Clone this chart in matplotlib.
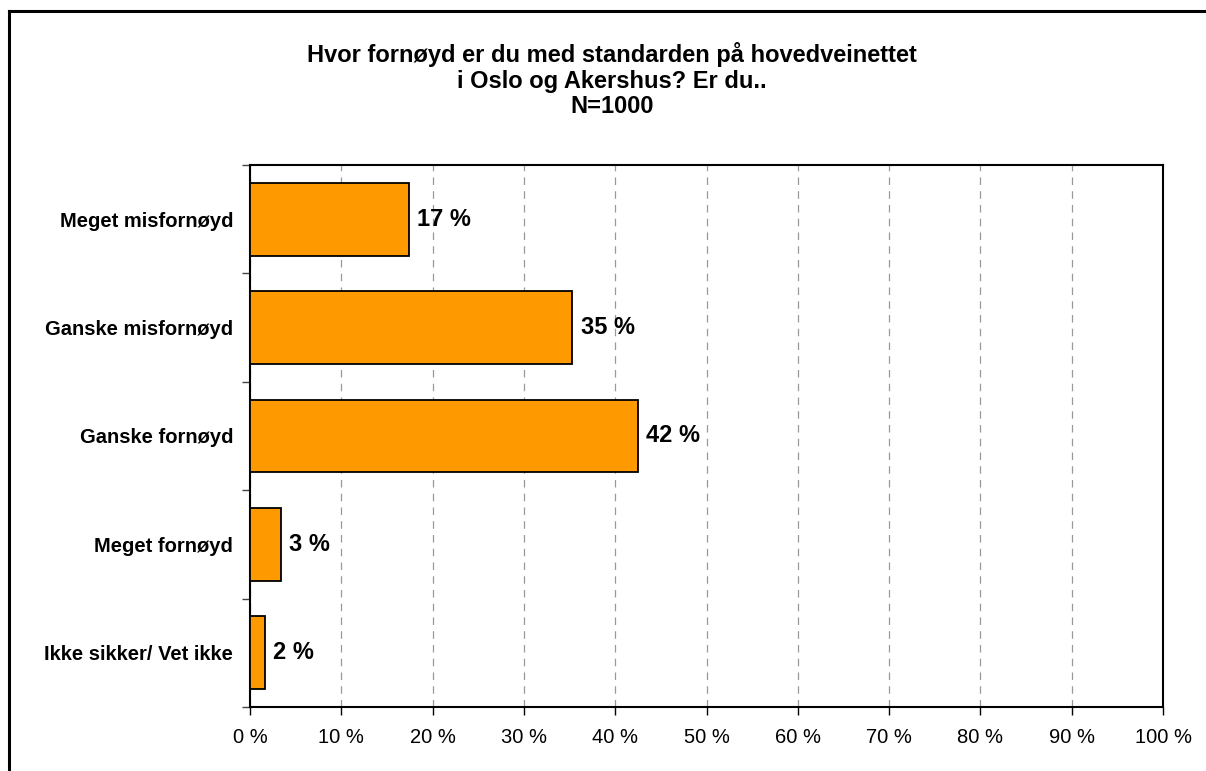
import matplotlib.pyplot as plt
from matplotlib.lines import Line2D
import numpy as np

plt.rcParams['font.family'] = ['Liberation Sans', 'DejaVu Sans']

# survey answers, top to bottom
categories = ["Meget misfornøyd", "Ganske misfornøyd", "Ganske fornøyd",
              "Meget fornøyd", "Ikke sikker/ Vet ikke"]
shares = [17.4, 35.3, 42.5, 3.4, 1.6]
x_ticks = list(range(0, 101, 10))
x_tick_labels = [f"{t} %" for t in x_ticks]

title_lines = ["Hvor fornøyd er du med standarden på hovedveinettet",
               "i Oslo og Akershus? Er du..",
               "N=1000"]

W, H = 1206, 771
fig = plt.figure(figsize=(W / 100, H / 100), dpi=100)
ax = fig.add_axes([250 / W, 1 - 707 / H, 913 / W, 542 / H])

y = np.arange(len(categories))
ax.barh(y, shares, height=0.67, color="#FF9900", edgecolor="black",
        linewidth=1.3, zorder=3)

for yi, v in zip(y, shares):
    ax.text(v + 0.9, yi, f"{v:.0f} %", va="center", ha="left",
            fontsize=17, fontweight="bold", zorder=4)

ax.set_xlim(0, 100)
ax.set_ylim(len(categories) - 0.5, -0.5)
ax.set_xticks(x_ticks)
ax.set_xticklabels(x_tick_labels, fontsize=14.5)
ax.set_yticks(y)
ax.set_yticklabels(categories, fontsize=14.5, fontweight="bold")
ax.tick_params(axis="y", length=0, pad=12)
ax.set_yticks(np.arange(-0.5, len(categories)), minor=True)
ax.tick_params(axis="y", which="minor", length=6, width=1, color="#444444")
ax.tick_params(axis="x", length=6, width=1, pad=9)

ax.grid(axis="x", color="#999999", linestyle=(0, (6, 5)), linewidth=0.9, zorder=0)
for s in ax.spines.values():
    s.set_linewidth(1.5)

# title block above the plot area, one baseline per line
for line, base in zip(title_lines, [62, 88, 113]):
    fig.text(612 / W, 1 - base / H, line, ha="center", va="baseline",
             fontsize=17, fontweight="bold")

# outer frame, open to the right and bottom
fig.add_artist(Line2D([9 / W, 9 / W], [0, 1 - 11 / H], color="black", lw=2.2,
                      transform=fig.transFigure))
fig.add_artist(Line2D([9 / W, 1.0], [1 - 11 / H, 1 - 11 / H], color="black",
                      lw=2.2, transform=fig.transFigure))

fig.savefig("out.png", dpi=100)
